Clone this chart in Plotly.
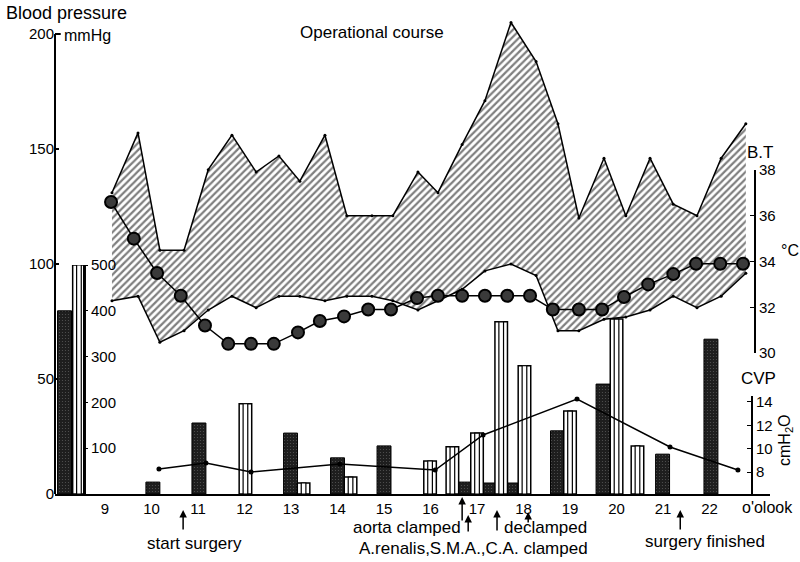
import plotly.graph_objects as go

# ---------------- data ----------------
hours = list(range(9, 23))
hour_labels = [str(h) for h in hours]

# blood pressure band (mmHg)
bp_time = [9.15, 9.71, 10.18, 10.70, 11.22, 11.73, 12.25, 12.74, 13.19, 13.73,
           14.20, 14.74, 15.19, 15.73, 16.16, 16.68, 17.17, 17.73, 18.27, 18.74,
           19.19, 19.73, 20.20, 20.72, 21.22, 21.73, 22.25, 22.78]
bp_systolic = [131, 157, 106, 106, 141, 156, 140, 147, 136, 156,
               121, 121, 121, 140, 131, 152, 171, 205, 188, 161,
               120, 146, 121, 146, 126, 121, 146, 161]
bp_diastolic = [84, 86, 66, 71, 80, 86, 81, 86, 86, 84,
                86, 86, 84, 80, 84, 89, 97, 100, 95, 71,
                71, 76, 77, 80, 86, 81, 86, 96]

# body temperature (deg C)
bt_time = [9.13, 9.62, 10.12, 10.63, 11.15, 11.65, 12.14, 12.63, 13.15, 13.62,
           14.14, 14.66, 15.15, 15.71, 16.16, 16.68, 17.17, 17.65, 18.14, 18.63,
           19.19, 19.69, 20.16, 20.68, 21.22, 21.71, 22.23, 22.72]
bt_values = [36.6, 35.0, 33.5, 32.5, 31.2, 30.4, 30.4, 30.4, 30.9, 31.4,
             31.6, 31.9, 31.9, 32.4, 32.5, 32.5, 32.5, 32.5, 32.5, 31.9,
             31.9, 31.9, 32.45, 33.0, 33.45, 33.9, 33.9, 33.9]

# central venous pressure (cmH2O)
cvp_time = [10.16, 11.17, 12.14, 14.05, 16.10, 17.13, 19.15, 21.15, 22.61]
cvp_values = [8.26, 8.77, 8.0, 8.69, 8.17, 11.17, 14.26, 10.14, 8.17]

# fluid bars (scale 0-500)
dark_time = [8.13, 10.03, 11.02, 12.99, 14.00, 15.00, 16.72, 17.24, 17.73,
             18.73, 19.71, 20.99, 22.03]
dark_values = [400, 26, 155, 133, 79, 105, 26, 24, 24, 138, 240, 87, 338]

white_time = [8.44, 12.02, 13.27, 14.28, 15.99, 16.47, 17.00, 17.52, 18.02,
              19.00, 20.00, 20.45]
white_values = [500, 197, 24, 37, 72, 103, 133, 376, 280, 181, 382, 105]

# event arrows (hour)
event_time = [10.68, 16.68, 16.81, 17.43, 18.10, 21.37]

FONT = "Liberation Sans, Arial, sans-serif"

fig = go.Figure()

# hatched blood pressure band
fig.add_trace(go.Scatter(x=bp_time, y=bp_diastolic, mode="lines+markers",
                         line=dict(color="black", width=1.5),
                         marker=dict(size=3, color="black"),
                         xaxis="x", yaxis="y", hoverinfo="skip"))
fig.add_trace(go.Scatter(x=bp_time, y=bp_systolic, mode="lines+markers",
                         line=dict(color="black", width=1.5),
                         marker=dict(size=3, color="black"),
                         fill="tonexty", fillcolor="white",
                         fillpattern=dict(shape="/", fgcolor="black", bgcolor="white",
                                          size=5, solidity=0.45),
                         xaxis="x", yaxis="y", hoverinfo="skip"))

# dark stippled bars
fig.add_trace(go.Bar(x=dark_time, y=dark_values, width=0.3,
                     marker=dict(color="#222222", line=dict(color="black", width=1),
                                 pattern=dict(shape=".", fgcolor="#8a8a8a", bgcolor="#1e1e1e",
                                              size=3, solidity=0.12)),
                     xaxis="x", yaxis="y2", hoverinfo="skip"))
# white double-line bars (outer + inner outline)
fig.add_trace(go.Bar(x=white_time, y=white_values, width=0.27,
                     marker=dict(color="white", line=dict(color="black", width=1.5)),
                     xaxis="x", yaxis="y2", hoverinfo="skip"))
fig.add_trace(go.Bar(x=white_time, y=white_values, width=0.1,
                     marker=dict(color="white", line=dict(color="black", width=1.2)),
                     xaxis="x", yaxis="y2", hoverinfo="skip"))

# body temperature
fig.add_trace(go.Scatter(x=bt_time, y=bt_values, mode="lines+markers",
                         line=dict(color="black", width=1.5),
                         marker=dict(size=12, color="#3a3a3a",
                                     line=dict(color="black", width=2)),
                         xaxis="x", yaxis="y3", hoverinfo="skip"))

# CVP
fig.add_trace(go.Scatter(x=cvp_time, y=cvp_values, mode="lines+markers",
                         line=dict(color="black", width=1.5),
                         marker=dict(size=5, color="black"),
                         xaxis="x", yaxis="y4", hoverinfo="skip"))

H = 473.0
def py(px):
    return (494 - px) / H
def pxx(px):
    return (px - 55) / 715.0

tickfont = dict(family=FONT, size=15, color="black")
CVP_PX = 23.33 / 2  # pixels per cmH2O

fig.update_layout(
    width=800, height=562,
    margin=dict(l=55, r=30, t=21, b=68),
    paper_bgcolor="white", plot_bgcolor="rgba(0,0,0,0)",
    showlegend=False, barmode="overlay",
    font=dict(family=FONT, size=16, color="black"),
    xaxis=dict(range=[7.925, 23.30], domain=[0, 1], anchor="y",
               tickvals=hours, ticktext=hour_labels, ticks="",
               showline=True, linecolor="black", linewidth=2,
               showgrid=False, zeroline=False, tickfont=tickfont),
    yaxis=dict(range=[0, 200 * H / 460.0], domain=[0, 1],
               tickvals=[0, 50, 100, 150, 200],
               ticks="inside", ticklen=4, tickwidth=1.5, tickcolor="black",
               showline=False, showgrid=False, zeroline=False, tickfont=tickfont),
    yaxis2=dict(range=[0, 500], domain=[0, py(265)], anchor="free",
                position=pxx(84), side="right",
                tickvals=[100, 200, 300, 400, 500], ticks="outside", ticklen=3,
                tickcolor="black", showline=True, linecolor="black", linewidth=2,
                showgrid=False, zeroline=False, tickfont=tickfont),
    yaxis3=dict(range=[30, 38], domain=[py(353), py(170)], anchor="free",
                position=pxx(755), side="right",
                tickvals=[30, 32, 34, 36, 38], ticks="inside", ticklen=4,
                tickcolor="black", showline=True, linecolor="black", linewidth=2,
                showgrid=False, zeroline=False, tickfont=tickfont),
    yaxis4=dict(range=[6.115, 14.5], domain=[0, py(402 - 0.5 * CVP_PX)], anchor="free",
                position=pxx(752), side="right",
                tickvals=[8, 10, 12, 14], ticks="inside", ticklen=4,
                tickcolor="black", showline=True, linecolor="black", linewidth=2,
                showgrid=False, zeroline=False, tickfont=tickfont),
)

# left blood-pressure axis line (0-200 only)
fig.add_shape(type="line", xref="paper", yref="y", x0=0, x1=0, y0=0, y1=200,
              line=dict(color="black", width=2))
fig.add_shape(type="line", xref="paper", yref="y", x0=0, x1=0.008, y0=200, y1=200,
              line=dict(color="black", width=2))

def note(text, x, y, xanchor="center", angle=0, size=17):
    fig.add_annotation(text=text, x=x, y=y, xref="paper", yref="paper",
                       xanchor=xanchor, yanchor="middle", showarrow=False,
                       textangle=angle, font=dict(family=FONT, size=size, color="black"))

note("Blood pressure", pxx(4), py(13), "left", size=18)
note("mmHg", pxx(62), py(35), "left", size=16)
note("Operational course", pxx(372), py(32))
note("B.T", pxx(745), py(152), "left")
note("°C", pxx(790), py(250), size=16)
note("CVP", pxx(758), py(378))
note("cmH<sub>2</sub>O", pxx(785), py(440), angle=-90, size=16)
note("o'olook", pxx(795), py(508), "right", size=16)
note("start surgery", pxx(194), py(543))
note("aorta clamped", pxx(407), py(527))
note("declamped", pxx(545), py(527))
note("A.renalis,S.M.A.,C.A. clamped", pxx(473), py(548))
note("surgery finished", pxx(705), py(541))

# event arrows
arrow_head = [510, 497, 515, 510, 512, 510]
arrow_tail = [531, 522, 533, 532, 524, 531]
for t, hpx, tpx in zip(event_time, arrow_head, arrow_tail):
    fig.add_annotation(x=t, y=py(hpx), xref="x", yref="paper", text="",
                       showarrow=True, ax=0, ay=tpx - hpx, arrowhead=2,
                       arrowsize=1, arrowwidth=1.5, arrowcolor="black")

fig.write_html("out.html", config={"displayModeBar": False},
               post_script="document.body.style.margin='0';document.body.style.overflow='hidden';")
